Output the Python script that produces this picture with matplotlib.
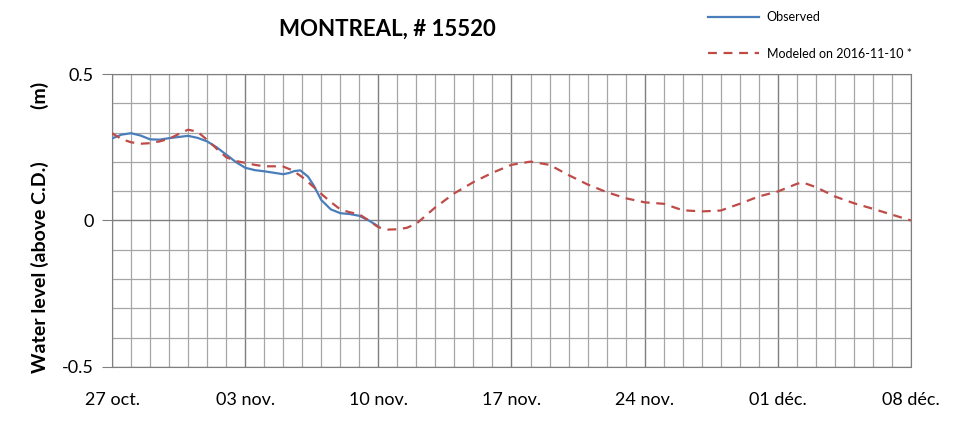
import numpy as np
import matplotlib.pyplot as plt
from matplotlib.ticker import MultipleLocator, FixedLocator

plt.rcParams['font.family'] = ['Lato', 'DejaVu Sans']

# days since 27 oct.
obs_days = [0, 0.5, 1, 1.5, 2, 2.5, 3, 3.5, 4, 4.5, 5, 5.5, 6, 6.5, 7, 7.5,
            8, 8.5, 9, 9.3, 9.6, 9.9, 10.3, 10.6, 11, 11.5, 12, 12.5, 13, 13.5, 14]
obs_vals = [0.28, 0.293, 0.298, 0.29, 0.277, 0.276, 0.281, 0.285, 0.289, 0.282,
            0.27, 0.25, 0.225, 0.2, 0.18, 0.172, 0.168, 0.163, 0.158, 0.162,
            0.169, 0.171, 0.15, 0.12, 0.07, 0.038, 0.025, 0.022, 0.016, 0.0, -0.02]

mod_days = [0, 0.5, 1, 1.5, 2, 2.5, 3, 3.5, 4, 4.5, 5, 5.5, 6, 6.5, 7, 7.5,
            8, 8.5, 9, 9.5, 10, 10.5, 11, 11.5, 12, 12.5, 13, 13.5, 14, 14.5,
            15, 15.5, 16, 17, 18, 19, 20, 21, 22, 23, 24, 25, 26, 27, 28, 29,
            30, 31, 32, 33, 34, 35, 36, 36.3, 37, 38, 39, 40, 41, 42]
mod_vals = [0.298, 0.278, 0.267, 0.262, 0.264, 0.27, 0.279, 0.295, 0.31, 0.303,
            0.275, 0.245, 0.216, 0.203, 0.197, 0.19, 0.185, 0.185, 0.184, 0.171,
            0.148, 0.12, 0.091, 0.063, 0.038, 0.028, 0.021, 0.0, -0.023, -0.031,
            -0.03, -0.025, -0.011, 0.045, 0.093, 0.131, 0.163, 0.19, 0.201, 0.19,
            0.155, 0.123, 0.097, 0.076, 0.062, 0.057, 0.035, 0.031, 0.034, 0.057,
            0.082, 0.099, 0.125, 0.13, 0.114, 0.082, 0.059, 0.04, 0.02, 0.0]

tick_days = [0, 7, 14, 21, 28, 35, 42]
tick_labels = ['27 oct.', '03 nov.', '10 nov.', '17 nov.', '24 nov.', '01 déc.', '08 déc.']

fig = plt.figure(figsize=(9.69, 4.21), dpi=100)
ax = fig.add_axes([0.1156, 0.1283, 0.8245, 0.6959])

ax.set_xlim(0, 42)
ax.set_ylim(-0.5, 0.5)

# grid
ax.xaxis.set_minor_locator(MultipleLocator(1))
ax.xaxis.set_major_locator(FixedLocator(tick_days))
ax.yaxis.set_minor_locator(MultipleLocator(0.1))
ax.yaxis.set_major_locator(FixedLocator([-0.5, 0, 0.5]))
ax.grid(which='minor', color='#a6a6a6', linewidth=0.9)
ax.grid(which='major', axis='x', color='#7f7f7f', linewidth=1.0)
ax.grid(which='major', axis='y', color='#7f7f7f', linewidth=1.0)
ax.set_axisbelow(True)

ax.plot(obs_days, obs_vals, color='#4a7ebb', linewidth=1.6, label='Observed', zorder=3)
ax.plot(mod_days, mod_vals, color='#be4b48', linewidth=1.6, linestyle=(0, (4, 3)),
        label='Modeled on 2016-11-10 *', zorder=3)

ax.set_xticklabels(tick_labels, fontsize=13)
ax.set_yticklabels(['-0.5', '0', '0.5'], fontsize=13)
ax.tick_params(axis='x', which='both', length=0, pad=18)
ax.tick_params(axis='y', which='major', length=7, color='#7f7f7f', pad=6)
ax.tick_params(axis='y', which='minor', length=0)
for s in ax.spines.values():
    s.set_color('#7f7f7f')

ax.set_ylabel('Water level (above C.D.)           (m)', fontsize=14, fontweight='bold')
ax.yaxis.set_label_coords(-0.079, 0.478)

fig.text(0.4, 0.93, 'MONTREAL, # 15520', ha='center', va='center',
         fontsize=16, fontweight='bold')

fig.legend(loc='upper left', bbox_to_anchor=(0.719, 1.0), frameon=False,
           fontsize=9, handlelength=4.1, labelspacing=1.95, handletextpad=0.6)

fig.savefig('out.png', dpi=100)
